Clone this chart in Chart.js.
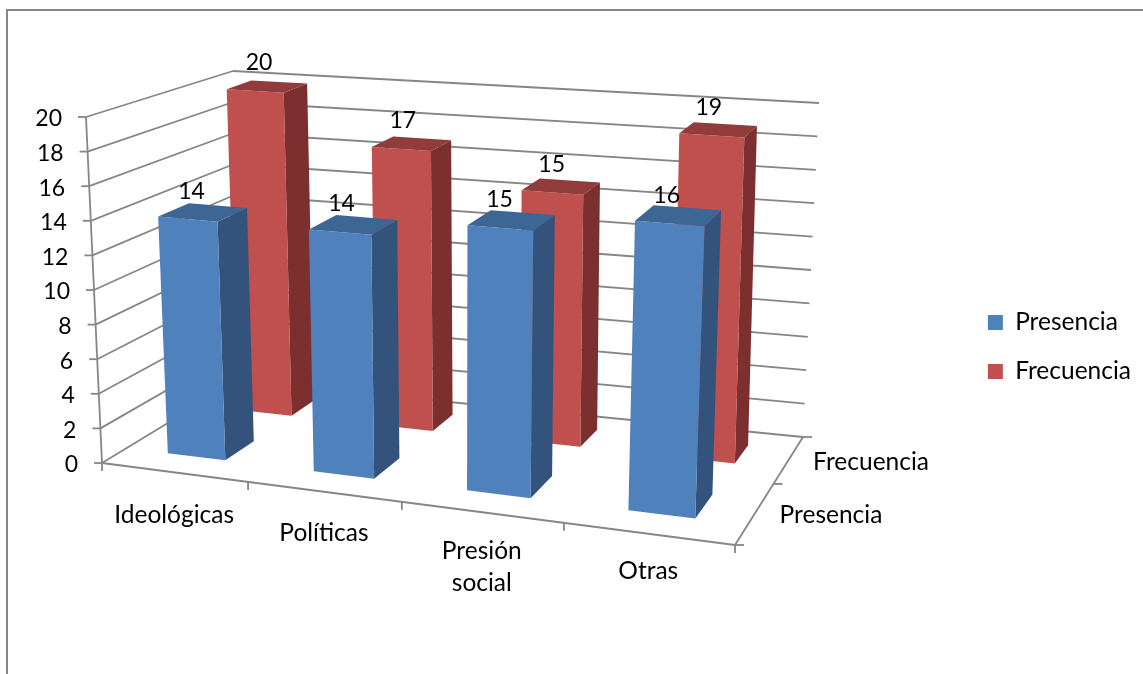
<!DOCTYPE html>
<html>
<head>
<meta charset="utf-8">
<title>Presencia y Frecuencia</title>
<script src="https://cdn.jsdelivr.net/npm/chart.js@4"></script>
<style>
  html, body { margin: 0; padding: 0; background: #fff; overflow: hidden; }
  canvas { display: block; }
</style>
</head>
<body>
<canvas id="myChart" width="1143" height="674" style="width:1143px;height:674px"></canvas>
<script>
var categories = ['Ideológicas', 'Políticas', ['Presión', 'social'], 'Otras'];
var seriesNames = ['Presencia', 'Frecuencia'];
var presencia = [14, 14, 15, 16];
var frecuencia = [20, 17, 15, 19];

var WORD_FONT = '24.5px Lato';
var DIGIT_FONT = '23px Lato';
var AXIS_COLOR = '#868686';

// corners of the 3d box on the page, h is the perspective weight of each corner
var box = {
  floor: [[102, 463, 1], [735, 545, 0.9], [803, 437, 1.17], [237, 381, 1.27]],
  top: [[86, 117, 1], [751, 165, 0.9], [819, 103, 1.17], [233, 71, 1.27]]
};
var BAR_DEPTH = 0.1; // half the depth of a bar, as a share of the floor

var faces = [
  { front: '#4f81bd', side: '#33537c', top: '#3e6694' },
  { front: '#c0504d', side: '#7b2f2e', top: '#913b3a' }
];

// u along the categories, v into the page, w up the value axis, all 0..1
function project(u, v, w) {
  var b = [(1 - u) * (1 - v), u * (1 - v), u * v, (1 - u) * v];
  var x = 0, y = 0, s = 0;
  for (var i = 0; i < 4; i++) {
    var f = box.floor[i], t = box.top[i];
    var px = f[0] + (t[0] - f[0]) * w;
    var py = f[1] + (t[1] - f[1]) * w;
    var k = b[i] * f[2];
    x += k * px;
    y += k * py;
    s += k;
  }
  return { x: x / s, y: y / s };
}

// bars sit a little off the wall grid in the original
function projectBar(u, v, w) {
  var p = project(u, v, w);
  return {
    x: p.x - (3 + 2.5 * v) * w - 1.5 * (1 - v) * (1 - w),
    y: p.y + (4 - 3 * v) * w
  };
}

function line(ctx, a, b) {
  ctx.beginPath();
  ctx.moveTo(a.x, a.y);
  ctx.lineTo(b.x, b.y);
  ctx.stroke();
}

function quad(ctx, pts, color) {
  ctx.fillStyle = color;
  ctx.beginPath();
  ctx.moveTo(pts[0].x, pts[0].y);
  for (var i = 1; i < pts.length; i++) ctx.lineTo(pts[i].x, pts[i].y);
  ctx.closePath();
  ctx.fill();
}

function text(ctx, str, x, y, align) {
  ctx.textAlign = align;
  ctx.fillText(str, x, y);
}

var box3d = {
  id: 'box3d',
  beforeDatasetsDraw: function (chart) {
    var ctx = chart.ctx, area = chart.chartArea;
    var yScale = chart.scales.y, xScale = chart.scales.x;
    var toW = function (px) { return (area.bottom - px) / area.height; };
    var toU = function (px) { return (px - area.left) / area.width; };

    ctx.save();
    // outer frame, open at right and bottom
    ctx.strokeStyle = AXIS_COLOR;
    ctx.lineWidth = 2;
    ctx.beginPath();
    ctx.moveTo(7, chart.height);
    ctx.lineTo(7, 10);
    ctx.lineTo(chart.width, 10);
    ctx.stroke();

    // walls
    ctx.lineWidth = 1.8;
    yScale.ticks.forEach(function (t) {
      var w = toW(yScale.getPixelForValue(t.value));
      var a = project(0, 0, w), b = project(0, 1, w), c = project(1, 1, w);
      line(ctx, a, b);
      line(ctx, b, c);
      line(ctx, a, { x: a.x - 8, y: a.y });
    });
    // axes
    line(ctx, project(0, 0, 0), project(0, 0, 1));
    line(ctx, project(0, 0, 0), project(1, 0, 0));
    line(ctx, project(1, 0, 0), project(1, 1, 0));
    for (var i = 0; i <= categories.length; i++) {
      var p = project(i / categories.length, 0, 0);
      line(ctx, p, { x: p.x, y: p.y + 8 });
    }
    for (var d = 0; d <= seriesNames.length; d++) {
      var q = project(1, d / seriesNames.length, 0);
      line(ctx, q, { x: q.x + 9, y: q.y });
    }

    // bars, back row first
    for (var ds = seriesNames.length - 1; ds >= 0; ds--) {
      var v0 = (ds + 0.5) / seriesNames.length - BAR_DEPTH;
      var v1 = (ds + 0.5) / seriesNames.length + BAR_DEPTH;
      chart.getDatasetMeta(ds).data.forEach(function (el) {
        var u0 = toU(el.x - el.width / 2), u1 = toU(el.x + el.width / 2);
        var w = toW(el.y);
        var fl = projectBar(u0, v0, w), fr = projectBar(u1, v0, w);
        var bl = projectBar(u0, v1, w), br = projectBar(u1, v1, w);
        var fl0 = projectBar(u0, v0, 0), fr0 = projectBar(u1, v0, 0), br0 = projectBar(u1, v1, 0);
        quad(ctx, [fr, br, br0, fr0], faces[ds].side);
        quad(ctx, [fl, fr, fr0, fl0], faces[ds].front);
        quad(ctx, [fl, fr, br, bl], faces[ds].top);
      });
    }

    // texts
    ctx.fillStyle = '#000';
    ctx.textBaseline = 'middle';
    ctx.font = DIGIT_FONT;
    yScale.ticks.forEach(function (t) {
      var a = project(0, 0, toW(yScale.getPixelForValue(t.value)));
      text(ctx, t.label, a.x - 24, a.y + 2, 'right');
    });
    for (var k = seriesNames.length - 1; k >= 0; k--) {
      var vf = (k + 0.5) / seriesNames.length - BAR_DEPTH;
      chart.getDatasetMeta(k).data.forEach(function (el, idx) {
        var u = toU(el.x);
        var p = projectBar(u, vf, toW(el.y));
        text(ctx, String(chart.data.datasets[k].data[idx]), p.x + 5 - 9 * u, p.y - 28, 'center');
      });
    }
    ctx.font = WORD_FONT;
    categories.forEach(function (c, idx) {
      var u = toU(xScale.getPixelForValue(idx));
      var p = project(u, 0, 0);
      var lines = [].concat(c);
      lines.forEach(function (s, n) {
        text(ctx, s, p.x, p.y + 44 - 8 * u + n * 32, 'center');
      });
    });
    seriesNames.forEach(function (s, ds) {
      var q = project(1, (ds + 0.5) / seriesNames.length, 0);
      text(ctx, s, q.x + 24, q.y + 3, 'left');
    });
    ctx.restore();
    return false; // the bars are already drawn
  }
};

Chart.defaults.font.family = 'Lato';

var myChart = new Chart(document.getElementById('myChart').getContext('2d'), {
  type: 'bar',
  data: {
    labels: categories,
    datasets: [
      { label: seriesNames[0], data: presencia, backgroundColor: faces[0].front, grouped: false, barPercentage: 0.4, categoryPercentage: 1 },
      { label: seriesNames[1], data: frecuencia, backgroundColor: faces[1].front, grouped: false, barPercentage: 0.4, categoryPercentage: 1 }
    ]
  },
  options: {
    responsive: false,
    animation: false,
    layout: { padding: { top: 20, right: 2 } },
    scales: {
      x: { display: false },
      y: { display: false, min: 0, max: 20, ticks: { stepSize: 2 } }
    },
    plugins: {
      tooltip: { enabled: false },
      legend: {
        position: 'right',
        labels: {
          boxWidth: 15,
          boxHeight: 15,
          padding: 24.5,
          color: '#000',
          font: { size: 24.5 }
        }
      }
    }
  },
  plugins: [box3d]
});
</script>
</body>
</html>
